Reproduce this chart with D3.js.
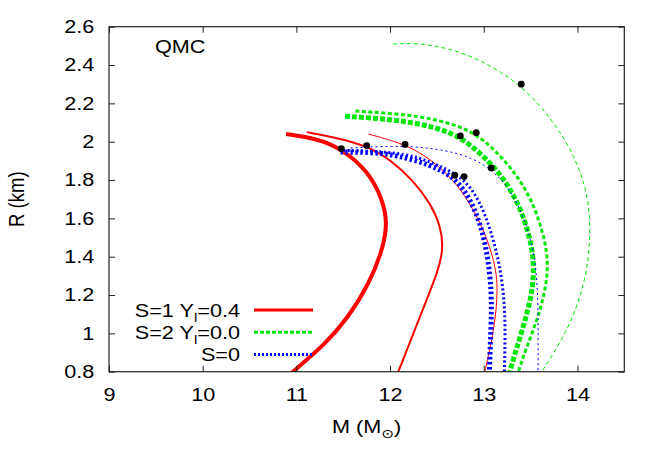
<!DOCTYPE html>
<html lang="en">
<head>
  <meta charset="UTF-8">
  <title>QMC M-R</title>
  <script src="https://d3js.org/d3.v7.min.js"></script>
  <style type="text/css">
    body { margin: 0; background: #fff; }
    svg text { font-family: 'Liberation Sans', Arial, sans-serif; font-size: 18.5px; fill: #000; }
  </style>
</head>
<body>
<div id="chart"></div>
<script>
  // axis ticks
  var xTicks = [9, 10, 11, 12, 13, 14];
  var yTicks = [0.8, 1, 1.2, 1.4, 1.6, 1.8, 2, 2.2, 2.4, 2.6];

  // S=1 Yl=0.4 (red), thick / medium / thin
  var s1Thick = [[10.89,2.04],[11.22,2.016],[11.48,1.964],[11.76,1.85],[11.92,1.70],[11.97,1.58],
    [11.93,1.45],[11.78,1.26],[11.55,1.08],[11.30,0.94],[10.96,0.80],[10.9,0.77]];
  var s1Mid = [[11.11,2.05],[11.40,2.024],[11.75,1.98],[12.02,1.90],[12.24,1.80],[12.43,1.68],
    [12.54,1.56],[12.57,1.44],[12.51,1.32],[12.32,1.09],[12.09,0.80],[12.06,0.77]];
  var s1Thin = [[11.77,2.04],[12.17,1.986],[12.43,1.91],[12.66,1.81],[12.84,1.69],
    [13.00,1.54],[13.10,1.40],[13.16,1.25],[13.11,1.01],[13.01,0.80],[13.0,0.77]];

  // S=2 Yl=0.0 (green)
  var s2Thick = [[11.52,2.133],[12.07,2.115],[12.45,2.08],[12.75,2.03],[13.07,1.894],[13.27,1.77],
    [13.42,1.62],[13.52,1.45],[13.54,1.30],[13.49,1.15],[13.40,1.00],[13.30,0.84],[13.27,0.78]];
  var s2Mid = [[11.63,2.16],[12.25,2.14],[12.62,2.10],[12.92,2.047],[13.25,1.894],[13.47,1.74],
    [13.61,1.57],[13.69,1.40],[13.67,1.25],[13.58,1.08],[13.45,0.92],[13.37,0.80],[13.35,0.77]];
  var s2Thin = [[12.03,2.51],[12.29,2.515],[12.61,2.49],[12.96,2.43],[13.40,2.30],[13.74,2.11],
    [13.98,1.92],[14.13,1.70],[14.14,1.45],[14.06,1.22],[13.88,1.00],[13.62,0.80],[13.58,0.77]];

  // S=0 (blue)
  var s0Thick = [[11.47,1.946],[11.80,1.945],[12.07,1.93],[12.43,1.88],[12.69,1.815],[12.86,1.70],
    [12.98,1.55],[13.05,1.38],[13.09,1.18],[13.07,0.95],[13.06,0.80],[13.06,0.77]];
  var s0Mid = [[11.50,1.955],[12.00,1.948],[12.30,1.92],[12.55,1.87],[12.79,1.808],[12.96,1.69],
    [13.08,1.53],[13.17,1.36],[13.22,1.18],[13.23,1.00],[13.22,0.80],[13.22,0.77]];
  var s0Thin = [[11.58,1.967],[12.17,1.982],[12.61,1.955],[12.88,1.915],[13.10,1.85],[13.30,1.74],
    [13.45,1.58],[13.55,1.40],[13.58,1.18],[13.58,0.95],[13.58,0.80],[13.58,0.77]];

  // black markers on the curves
  var markers = [[11.48,1.964],[11.75,1.98],[12.16,1.986],[12.69,1.825],[12.79,1.818],
    [13.08,1.863],[12.75,2.03],[12.92,2.047],[13.40,2.30]];

  var legendLabels = ['S=1 Y|l|=0.4', 'S=2 Y|l|=0.0', 'S=0'];

  var RED = '#ff0000', GREEN = '#00e800', BLUE = '#0000ff';
  var SX = 1.17; // horizontal stretch of the glyphs

  var W = 664, H = 465,
    X0 = 109, X1 = 624.3, Y0 = 371.7, Y1 = 26.7;

  var xScale = d3.scaleLinear().domain([9, 14.5]).range([X0, X1]);
  var yScale = d3.scaleLinear().domain([0.8, 2.6]).range([Y0, Y1]);

  var svg = d3.select('#chart').append('svg')
    .attr('width', W).attr('height', H);

  svg.append('defs').append('clipPath').attr('id', 'plotClip')
    .append('rect')
    .attr('x', X0).attr('y', Y1)
    .attr('width', X1 - X0).attr('height', Y0 - Y1);

  var line = d3.line()
    .x(function (d) { return xScale(d[0]); })
    .y(function (d) { return yScale(d[1]); })
    .curve(d3.curveBasis);

  var curves = [
    {data: s1Thick, color: RED, width: 4, dash: null},
    {data: s1Mid, color: RED, width: 2, dash: null},
    {data: s1Thin, color: RED, width: 1, dash: null},
    {data: s2Thick, color: GREEN, width: 5, dash: '5,2'},
    {data: s2Mid, color: GREEN, width: 3, dash: '4,2.5'},
    {data: s2Thin, color: GREEN, width: 1, dash: '4,3'},
    {data: s0Thick, color: BLUE, width: 5, dash: '2.5,2.5'},
    {data: s0Mid, color: BLUE, width: 3, dash: '2,2.5'},
    {data: s0Thin, color: BLUE, width: 1, dash: '2,3'}
  ];

  var plot = svg.append('g').attr('clip-path', 'url(#plotClip)');

  plot.selectAll('path.curve')
    .data(curves)
    .enter()
    .append('path')
    .attr('class', 'curve')
    .attr('d', function (d) { return line(d.data); })
    .attr('fill', 'none')
    .attr('stroke', function (d) { return d.color; })
    .attr('stroke-width', function (d) { return d.width; })
    .attr('stroke-dasharray', function (d) { return d.dash; });

  plot.selectAll('circle')
    .data(markers)
    .enter()
    .append('circle')
    .attr('cx', function (d) { return xScale(d[0]); })
    .attr('cy', function (d) { return yScale(d[1]); })
    .attr('r', 3.4)
    .attr('fill', '#000');

  // axes, inward ticks on all four sides
  var bottom = svg.append('g')
    .attr('transform', 'translate(0,' + Y0 + ')')
    .call(d3.axisBottom(xScale).tickValues(xTicks).tickSizeInner(-6).tickSizeOuter(0).tickPadding(15.9)
      .tickFormat(d3.format('d')));
  bottom.selectAll('text').attr('transform', 'scale(' + SX + ',1)');

  var left = svg.append('g')
    .attr('transform', 'translate(' + X0 + ',0)')
    .call(d3.axisLeft(yScale).tickValues(yTicks).tickSizeInner(-6).tickSizeOuter(0).tickPadding(12.6)
      .tickFormat(function (d) { return d3.format('.1f')(d).replace(/\.0$/, ''); }));
  left.selectAll('text').attr('transform', 'scale(' + SX + ',1)');

  svg.append('g')
    .attr('transform', 'translate(0,' + Y1 + ')')
    .call(d3.axisTop(xScale).tickValues(xTicks).tickSizeInner(-6).tickSizeOuter(0).tickFormat(''));
  svg.append('g')
    .attr('transform', 'translate(' + X1 + ',0)')
    .call(d3.axisRight(yScale).tickValues(yTicks).tickSizeInner(-6).tickSizeOuter(0).tickFormat(''));

  svg.selectAll('.domain').remove();
  svg.selectAll('.tick line').attr('stroke', '#222');
  svg.selectAll('.tick text').style('font-size', '18.5px').style('font-family', "'Liberation Sans', Arial, sans-serif");

  svg.append('rect')
    .attr('x', X0).attr('y', Y1)
    .attr('width', X1 - X0).attr('height', Y0 - Y1)
    .attr('fill', 'none')
    .attr('stroke', '#222')
    .attr('stroke-width', 1.2);

  // axis titles
  var xt = svg.append('text')
    .attr('transform', 'translate(' + ((X0 + X1) / 2) + ',433) scale(' + SX + ',1)')
    .attr('text-anchor', 'middle');
  xt.append('tspan').text('M (M');
  xt.append('tspan').attr('dy', 5).style('font-family', "'DejaVu Sans'").style('font-size', '13px').text('\u2299');
  xt.append('tspan').attr('dy', -5).text(')');

  svg.append('text')
    .attr('transform', 'translate(24,' + ((Y0 + Y1) / 2) + ') scale(' + SX + ',1) rotate(-90)')
    .attr('text-anchor', 'middle')
    .text('R (km)');

  svg.append('text')
    .attr('transform', 'translate(155,53.3) scale(' + SX + ',1)')
    .text('QMC');

  // legend
  var legendRows = [
    {label: legendLabels[0], color: RED, dash: null},
    {label: legendLabels[1], color: GREEN, dash: '4,2'},
    {label: legendLabels[2], color: BLUE, dash: '2,2'}
  ];
  var lg = svg.append('g').selectAll('g')
    .data(legendRows)
    .enter()
    .append('g')
    .attr('transform', function (d, i) { return 'translate(0,' + (310 + i * 22.2) + ')'; });

  lg.append('line')
    .attr('x1', 254).attr('x2', 313)
    .attr('y1', 0).attr('y2', 0)
    .attr('stroke', function (d) { return d.color; })
    .attr('stroke-width', 3)
    .attr('stroke-dasharray', function (d) { return d.dash; });

  lg.each(function (d) {
    var t = d3.select(this).append('text')
      .attr('transform', 'translate(240,6.6) scale(' + SX + ',1)')
      .attr('text-anchor', 'end');
    var parts = d.label.split('|');
    t.append('tspan').text(parts[0]);
    if (parts.length > 1) {
      t.append('tspan').attr('dy', 5).style('font-size', '13px').text(parts[1]);
      t.append('tspan').attr('dy', -5).text(parts[2]);
    }
  });
</script>
</body>
</html>
